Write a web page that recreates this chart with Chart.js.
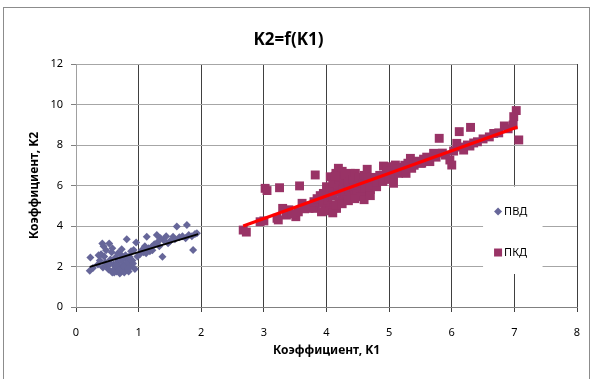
<!DOCTYPE html>
<html>
<head>
<meta charset="utf-8">
<script src="https://cdn.jsdelivr.net/npm/chart.js@4.4.1/dist/chart.umd.min.js"></script>
<style>
  body { margin: 0; background: #fff; }
  #k2Chart { display: block; }
</style>
</head>
<body>
<canvas id="k2Chart" width="592" height="379"></canvas>
<script>
// ПВД
const pvdK1 = [0.23,0.22,0.27,0.35,0.38,0.42,0.44,0.53,0.40,0.45,0.47,0.50,0.52,0.55,0.57,0.58,0.60,0.62,0.63,0.65,
  0.66,0.68,0.70,0.71,0.72,0.74,0.75,0.77,0.78,0.80,0.81,0.82,0.84,0.85,0.87,0.88,0.90,0.92,0.94,0.96,
  0.48,0.43,0.36,0.58,0.67,0.73,0.61,0.69,0.79,0.86,0.54,0.64,0.76,0.83,0.91,0.98,
  1.02,1.05,1.08,1.10,1.13,1.16,1.18,1.21,1.25,1.29,1.30,1.33,1.38,1.40,1.44,1.47,1.50,1.55,1.58,1.61,
  1.65,1.70,1.77,1.75,1.80,1.85,1.87,1.90,1.93,1.12,1.22,1.35];
const pvdK2 = [2.45,1.79,1.92,2.10,2.30,3.14,3.00,3.14,2.60,2.50,2.20,2.00,1.85,2.35,2.70,1.70,2.10,1.90,2.45,1.75,
  2.20,2.00,1.65,2.60,2.30,1.80,2.10,1.70,2.40,1.95,3.34,2.20,1.75,2.50,2.00,2.75,2.30,2.81,1.88,3.18,
  2.80,1.95,2.55,2.90,2.65,2.85,1.70,1.85,2.55,2.35,2.15,2.05,2.00,1.90,2.15,2.50,
  2.60,2.80,2.70,3.00,3.47,2.90,2.75,2.98,3.10,3.56,3.20,3.00,2.48,3.30,3.50,3.15,3.25,3.47,3.35,3.97,
  3.45,3.50,4.05,3.40,3.55,3.50,2.81,3.60,3.64,2.65,2.80,3.40];

// ПКД
const pkdK1 = [2.67,2.72,2.94,3.00,3.02,3.05,3.25,3.57,3.21,3.30,3.36,3.51,3.61,3.72,3.82,3.87,3.98,3.82,3.40,3.55,
  3.65,3.75,3.80,3.85,3.90,3.95,3.95,4.00,4.00,4.02,4.05,4.06,4.08,4.10,4.10,4.12,4.15,4.16,4.18,4.19,
  4.20,4.20,4.22,4.24,4.25,4.27,4.28,4.30,4.30,4.32,4.35,4.36,4.38,4.40,4.42,4.44,4.46,4.46,4.48,4.50,
  4.52,4.55,4.56,4.58,4.59,4.60,4.62,4.65,4.66,4.70,4.72,4.75,4.78,4.80,4.80,4.85,4.90,4.91,4.96,4.96,
  5.00,5.03,5.07,5.07,5.10,5.12,5.15,5.20,5.25,5.27,5.30,5.34,5.36,5.40,5.45,5.50,5.52,5.55,5.60,5.65,
  5.71,5.75,5.80,5.85,5.90,5.97,6.00,6.03,6.08,6.12,6.15,6.19,6.25,6.29,6.30,6.35,6.41,6.50,6.60,6.67,
  6.75,6.84,6.90,6.98,6.99,7.03,7.07,4.05,4.10,3.92,4.15,4.25,4.35,4.45,4.55,4.60,4.70,3.23,3.45,4.14];
const pkdK2 = [3.80,3.70,4.21,4.25,5.86,5.75,5.89,5.98,4.38,4.87,4.54,4.46,5.12,4.87,6.52,5.28,4.95,4.87,4.80,4.70,
  4.85,5.00,5.20,5.35,5.50,5.61,5.12,5.94,4.79,5.30,5.80,6.43,5.00,6.10,5.50,4.90,6.60,4.87,5.70,6.85,
  6.30,5.20,6.00,5.40,6.70,5.90,6.20,5.60,6.50,5.30,6.10,5.80,6.60,5.50,6.30,5.90,6.60,5.53,5.60,6.00,
  6.40,5.70,5.48,6.10,5.70,6.50,5.90,6.80,6.20,5.80,6.40,6.00,6.30,5.94,6.19,6.50,6.20,6.96,6.60,6.93,
  6.30,6.70,6.52,6.11,7.01,6.80,6.60,6.90,7.00,6.60,7.10,7.34,6.85,7.00,7.20,7.10,7.10,7.30,7.40,7.18,
  7.59,7.40,8.33,7.60,7.50,7.26,7.01,7.70,8.08,8.66,7.90,7.75,8.00,7.95,8.87,8.10,8.16,8.30,8.40,8.57,
  8.60,8.94,8.80,8.99,9.40,9.70,8.25,4.75,4.65,4.70,5.05,5.10,5.25,5.35,5.45,5.30,5.50,4.30,4.60,6.45];

// trend line end points
const pvdTrendK1 = [0.22, 1.95];
const pvdTrendK2 = [1.98, 3.60];
const pkdTrendK1 = [2.67, 7.05];
const pkdTrendK2 = [4.00, 8.89];

const xTicks = [0, 1, 2, 3, 4, 5, 6, 7, 8];
const yTicks = [0, 2, 4, 6, 8, 10, 12];

const blue = '#666699';
const plum = '#993366';
const font = '"Noto Sans", "DejaVu Sans", sans-serif';

function toPoints(xs, ys) {
  return xs.map((x, i) => ({ x: x, y: ys[i] }));
}

// white page + grey frame round the chart
const framePlugin = {
  id: 'frame',
  beforeDraw(chart) {
    const ctx = chart.ctx;
    ctx.save();
    ctx.fillStyle = '#fff';
    ctx.fillRect(0, 0, chart.width, chart.height);
    ctx.strokeStyle = '#8c8c8c';
    ctx.lineWidth = 1;
    ctx.strokeRect(3.5, 7.5, 586, 400);
    ctx.restore();
  }
};

// Excel-like legend sitting inside the plot on the right
const legendPlugin = {
  id: 'boxLegend',
  afterDraw(chart) {
    const ctx = chart.ctx;
    const xs = chart.scales.x, ys = chart.scales.y;
    const left = xs.getPixelForValue(6.5), right = xs.getPixelForValue(7.45);
    const top = ys.getPixelForValue(5.95), bottom = ys.getPixelForValue(1.63);
    ctx.save();
    ctx.fillStyle = '#fff';
    ctx.fillRect(left, top, right - left, bottom - top);
    ctx.font = '11px ' + font;
    ctx.textBaseline = 'middle';
    const items = chart.data.datasets.filter(d => d.legend);
    items.forEach((d, i) => {
      const cy = top + 25 + i * 41;
      const mx = left + 15;
      ctx.fillStyle = d.backgroundColor;
      ctx.beginPath();
      if (d.pointStyle === 'rectRot') {
        ctx.moveTo(mx - 4, cy); ctx.lineTo(mx, cy - 4); ctx.lineTo(mx + 4, cy); ctx.lineTo(mx, cy + 4);
      } else {
        ctx.rect(mx - 4, cy - 4, 8, 8);
      }
      ctx.fill();
      ctx.fillStyle = '#000';
      ctx.fillText(d.label, mx + 6, cy);
    });
    ctx.restore();
  }
};

const ctx = document.getElementById('k2Chart').getContext('2d');
new Chart(ctx, {
  type: 'scatter',
  data: {
    datasets: [
      { label: 'trend ПВД', data: toPoints(pvdTrendK1, pvdTrendK2), showLine: true, pointRadius: 0,
        borderColor: '#000', borderWidth: 2, order: 0 },
      { label: 'trend ПКД', data: toPoints(pkdTrendK1, pkdTrendK2), showLine: true, pointRadius: 0,
        borderColor: '#ff0000', borderWidth: 3, order: 0 },
      { label: 'ПВД', legend: true, data: toPoints(pvdK1, pvdK2), pointStyle: 'rectRot', pointRadius: 4,
        backgroundColor: blue, borderColor: blue, borderWidth: 0, order: 1 },
      { label: 'ПКД', legend: true, data: toPoints(pkdK1, pkdK2), pointStyle: 'rect', pointRadius: 6.3,
        backgroundColor: plum, borderColor: plum, borderWidth: 0, order: 1 }
    ]
  },
  options: {
    responsive: false,
    animation: false,
    layout: { padding: { left: 0, right: 15, top: 0, bottom: 0 } },
    plugins: {
      legend: { display: false },
      tooltip: { enabled: false },
      title: {
        display: true,
        text: 'K2=f(K1)',
        color: '#000',
        font: { family: font, size: 17, weight: 'bold' },
        padding: { top: 30, bottom: 13.6 }
      }
    },
    scales: {
      x: {
        type: 'linear',
        min: 0, max: 8,
        afterFit: s => { s.height = 72; s.paddingLeft = 0; s.paddingRight = 0; },
        afterBuildTicks: s => { s.ticks = xTicks.map(v => ({ value: v })); },
        ticks: { color: '#000', font: { family: font, size: 11 }, padding: 14, maxRotation: 0 },
        grid: {
          color: c => (c.tick && c.tick.value === 0) ? '#a0a0a0' : '#404040',
          tickColor: '#404040',
          tickLength: 5
        },
        border: { color: '#808080' },
        title: {
          display: true,
          text: 'Коэффициент, K1',
          color: '#000',
          font: { family: font, size: 12, weight: 'bold' },
          padding: { bottom: 21 }
        }
      },
      y: {
        type: 'linear',
        min: 0, max: 12,
        afterFit: s => { s.width = 76; s.paddingTop = 0; s.paddingBottom = 0; },
        afterBuildTicks: s => { s.ticks = yTicks.map(v => ({ value: v })); },
        ticks: { color: '#000', font: { family: font, size: 11 }, padding: 8 },
        grid: { color: '#a6a6a6', tickColor: '#808080', tickLength: 5 },
        border: { color: '#a0a0a0' },
        title: {
          display: true,
          text: 'Коэффициент, K2',
          color: '#000',
          font: { family: font, size: 12, weight: 'bold' },
          padding: { top: 27 }
        }
      }
    }
  },
  plugins: [framePlugin, legendPlugin]
});
</script>
</body>
</html>
